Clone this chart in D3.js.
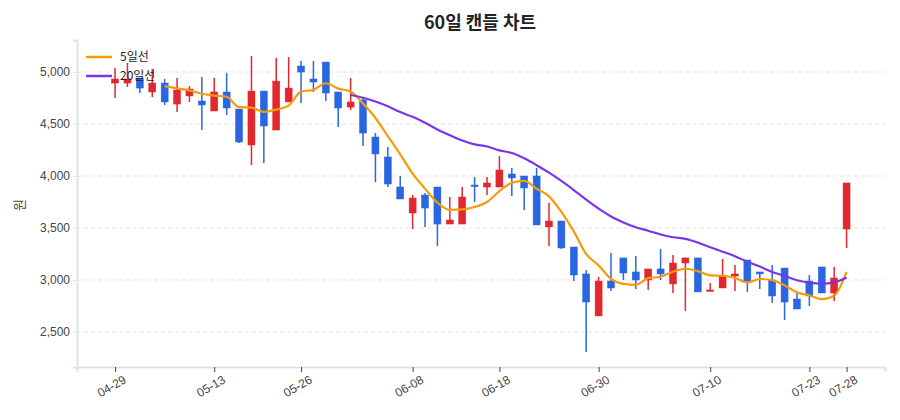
<!DOCTYPE html>
<html>
<head>
<meta charset="utf-8">
<script src="https://cdn.jsdelivr.net/npm/d3@7"></script>
<style>
  body { margin: 0; background: #fff; font-family: "Noto Sans CJK KR", "Noto Sans", sans-serif; }
  .grid line { stroke: #e3e3e3; stroke-dasharray: 4 3; }
  .axis text { fill: #444; font-size: 12px; }
</style>
</head>
<body>
<svg id="chart" width="900" height="420"></svg>
<script>
// OHLC per trading day
const opens  = [4894,4894,4942,4808,4894,4692,4770,4721,4625,4808,4644,4298,4817,4442,4712,5058,4933,5096,4808,4663,
                4731,4375,4183,3894,3644,3817,3894,3538,3538,3913,3894,3894,4019,4000,4000,3510,3567,3317,3058,2654,
                2990,3212,3077,3000,3106,2962,3163,3212,2894,2923,3038,3192,3077,3000,3115,2817,2990,3125,2875,3490];
const closes = [4933,4933,4846,4894,4712,4827,4837,4683,4808,4654,4327,4817,4481,4913,4846,5000,4904,4798,4654,4712,
                4413,4212,3923,3779,3788,3692,3538,3577,3798,3904,3933,4058,3981,3885,3529,3567,3308,3048,2788,2990,
                2923,3067,3000,3106,3058,3163,3212,2885,2904,3038,3058,2990,3058,2846,2788,2721,2846,2875,3019,3933];
const highs  = [5038,5087,4942,5029,4933,4942,4865,4952,4942,4990,4644,5154,4817,5135,5144,5106,5106,5096,4808,4942,
                4750,4413,4279,4000,3817,3837,3894,3798,3894,3990,3990,4192,4077,4000,4077,3740,3567,3317,3096,3029,
                3260,3212,3231,3106,3298,3240,3212,3212,2971,3202,3144,3192,3077,3144,3115,2875,3048,3125,3125,3933];
const lows   = [4750,4856,4798,4760,4683,4615,4712,4442,4625,4587,4317,4106,4125,4442,4712,4702,4808,4721,4471,4635,
                4288,3942,3894,3779,3490,3510,3327,3538,3538,3750,3817,3894,3808,3673,3529,3327,3298,2990,2308,2654,
                2894,3000,2913,2904,3000,2875,2702,2885,2894,2923,2894,2885,2913,2779,2615,2721,2750,2875,2798,3308];

// x tick labels (index into the 60 days)
const tickIdx    = [0, 8, 15, 24, 31, 39, 48, 56, 59];
const tickLabels = ["04-29","05-13","05-26","06-08","06-18","06-30","07-10","07-23","07-28"];
const yTicks = [2500, 3000, 3500, 4000, 4500, 5000];

const UP = "#e0282e", DOWN = "#2a66e0";

function movingAvg(arr, n) {
  return arr.map((d, i) => i < n - 1 ? null : d3.mean(arr.slice(i - n + 1, i + 1)));
}
const ma5 = movingAvg(closes, 5), ma20 = movingAvg(closes, 20);

const svg = d3.select("#chart");
const plotL = 77, plotR = 885, plotT = 40, plotB = 367;

const x = d3.scaleLinear().domain([-3.07, 62.1]).range([plotL, plotR]);
const y = d3.scaleLinear().domain([2163, 5308]).range([plotB, plotT]);

// grid
svg.append("g").attr("class", "grid")
  .selectAll("line").data(yTicks).join("line")
  .attr("x1", plotL).attr("x2", plotR)
  .attr("y1", d => y(d)).attr("y2", d => y(d));

// axes
const yAxis = svg.append("g").attr("class", "axis")
  .attr("transform", `translate(${plotL},0)`)
  .call(d3.axisLeft(y).tickValues(yTicks).tickFormat(d3.format(",")).tickSize(4));
yAxis.select(".domain").attr("stroke", "#dfe3e8").attr("stroke-width", 2);
yAxis.selectAll(".tick line").attr("stroke", "#dfe3e8");

const xAxis = svg.append("g").attr("class", "axis")
  .attr("transform", `translate(0,${plotB})`)
  .call(d3.axisBottom(x).tickValues(tickIdx).tickFormat((d, i) => tickLabels[i]).tickSize(5));
xAxis.select(".domain").attr("stroke", "#dfe3e8").attr("stroke-width", 2);
xAxis.selectAll(".tick line").attr("stroke", "#444");
xAxis.selectAll("text")
  .attr("text-anchor", "end").attr("dx", "0.2em").attr("dy", "0.9em")
  .attr("transform", "rotate(-30)");

// candles
const idx = d3.range(closes.length);
const candle = svg.append("g").selectAll("g").data(idx).join("g")
  .attr("fill", i => closes[i] >= opens[i] ? UP : DOWN)
  .attr("stroke", i => closes[i] >= opens[i] ? UP : DOWN);
candle.append("line")
  .attr("x1", i => x(i)).attr("x2", i => x(i))
  .attr("y1", i => y(highs[i])).attr("y2", i => y(lows[i]))
  .attr("stroke-width", 1.5);
candle.append("rect")
  .attr("x", i => x(i) - 3.5).attr("width", 7)
  .attr("y", i => y(Math.max(opens[i], closes[i])))
  .attr("height", i => Math.max(1.5, Math.abs(y(opens[i]) - y(closes[i]))))
  .attr("stroke-width", 0.5);

// moving averages
const line = d3.line().defined(d => d[1] != null)
  .x(d => x(d[0])).y(d => y(d[1])).curve(d3.curveMonotoneX);
svg.append("path").datum(ma5.map((v, i) => [i, v]))
  .attr("d", line).attr("fill", "none").attr("stroke", "#f59c0a").attr("stroke-width", 2.2);
svg.append("path").datum(ma20.map((v, i) => [i, v]))
  .attr("d", line).attr("fill", "none").attr("stroke", "#7a35e8").attr("stroke-width", 2.2);

// legend
const legend = [["5일선", "#f59c0a"], ["20일선", "#7a35e8"]];
const lg = svg.append("g").selectAll("g").data(legend).join("g")
  .attr("transform", (d, i) => `translate(86,${57 + i * 19})`);
lg.append("line").attr("x1", 0).attr("x2", 26).attr("stroke", d => d[1]).attr("stroke-width", 2.5);
lg.append("text").attr("x", 34).attr("dy", "0.35em").attr("font-size", 12).attr("fill", "#222").text(d => d[0]);

// title and y label
svg.append("text").attr("x", 480).attr("y", 29).attr("text-anchor", "middle")
  .attr("font-size", 18).attr("font-weight", "bold").attr("fill", "#222").text("60일 캔들 차트");
svg.append("text").attr("transform", "translate(24,205) rotate(-90)").attr("text-anchor", "middle")
  .attr("font-size", 13).attr("fill", "#444").text("원");
</script>
</body>
</html>
